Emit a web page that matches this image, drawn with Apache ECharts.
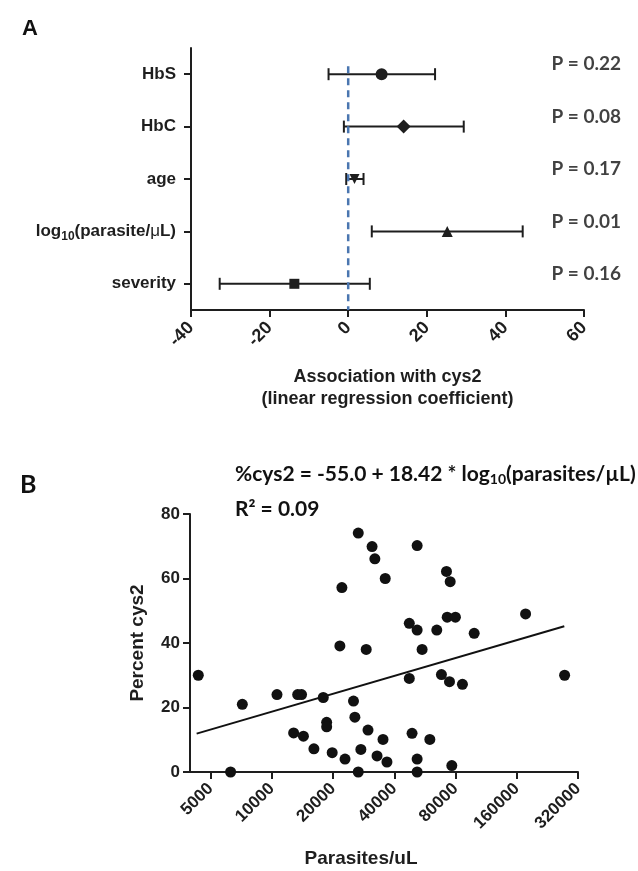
<!DOCTYPE html>
<html><head><meta charset="utf-8">
<script src="https://cdn.jsdelivr.net/npm/echarts@6/dist/echarts.min.js"></script>
<style>html,body{margin:0;padding:0;background:#fff}#c{width:638px;height:871px}</style>
</head><body><div id="c"></div>
<script>
// ---------- Panel A data ----------
const factorKeys = ['HbS', 'HbC', 'age', 'log', 'severity'];
const estimates = [8.5, 14.1, 1.6, 25.2, -13.7];
const ciLow = [-5.0, -1.1, -0.5, 6.0, -32.7];
const ciHigh = [22.1, 29.4, 3.9, 44.4, 5.5];
const pValueLabels = ['P = 0.22', 'P = 0.08', 'P = 0.17', 'P = 0.01', 'P = 0.16'];
const coefTicks = [-40, -20, 0, 20, 40, 60];

// ---------- Panel B data ----------
const parasites = [4350, 6270, 7160, 10600, 13400, 14000, 12800, 14300, 16100, 17900,
  18600, 18600, 19800, 21600, 22100, 22900, 25200, 25600, 26600, 26600,
  27400, 29100, 29700, 31100, 32100, 32900, 36100, 51800, 72200, 75300,
  47400, 51800, 64700, 72800, 79900, 98800, 176800, 54800, 47400, 68200,
  74700, 86500, 275000, 35200, 48900, 59800, 36800, 51800, 51800, 76700];
const percentCys2 = [30, 0, 21, 24, 24, 24, 12.1, 11.1, 7.2, 23.1,
  15.4, 14, 6, 39.1, 57.2, 4, 22, 17, 74.1, 0,
  7, 38, 13, 69.9, 66.1, 5, 60, 70.2, 62.2, 59,
  46.1, 44, 44, 48, 48, 43, 49, 38, 29, 30.2,
  28, 27.2, 30, 10.1, 12, 10.1, 3.1, 4, 0, 2];
const fitParasites = [4270, 274000];
const fitPercent = [11.9, 45.2];
const parasiteTicks = [5000, 10000, 20000, 40000, 80000, 160000, 320000];
const percentTicks = [0, 20, 40, 60, 80];

// ---------- styling ----------
const AX = '"Liberation Sans", Arial, sans-serif';
const CAL = 'Lato, "Open Sans", sans-serif';
const INK = '#1e1e1e';
const markerSymbols = ['circle', 'diamond', 'triangle', 'triangle', 'rect'];
const markerRotate = [0, 0, 180, 0, 0];
const markerSize = [12, 14, 10, 11, 10];
const pLabelX = 51.2;

const axisLineStyle = { show: true, onZero: false, lineStyle: { color: INK, width: 2 } };
const tickStyle = { show: true, length: 7, lineStyle: { color: INK, width: 2 } };
const labelFont = { fontFamily: AX, fontWeight: 'bold', fontSize: 17, color: INK };

const chart = echarts.init(document.getElementById('c'), null, { renderer: 'canvas' });

const option = {
  animation: false,
  backgroundColor: '#fff',
  grid: [
    { left: 191, right: 54, top: 48, bottom: 561 },
    { left: 190, right: 60, top: 514, bottom: 99 }
  ],
  xAxis: [
    {
      type: 'value', gridIndex: 0,
      min: coefTicks[0], max: coefTicks[coefTicks.length - 1], interval: 20,
      axisLine: axisLineStyle, axisTick: tickStyle,
      axisLabel: Object.assign({ rotate: 45, margin: 15 }, labelFont, { fontSize: 18 }),
      splitLine: { show: false },
      name: 'Association with cys2\n(linear regression coefficient)',
      nameLocation: 'middle', nameGap: 56,
      nameTextStyle: { fontFamily: AX, fontWeight: 'bold', fontSize: 18, lineHeight: 22, color: INK }
    },
    {
      type: 'value', gridIndex: 1,
      min: Math.log2(3960), max: Math.log2(parasiteTicks[parasiteTicks.length - 1]),
      axisLine: axisLineStyle,
      axisTick: Object.assign({ customValues: parasiteTicks.map(v => Math.log2(v)) }, tickStyle),
      axisLabel: Object.assign({
        customValues: parasiteTicks.map(v => Math.log2(v)),
        rotate: 45, margin: 14,
        formatter: v => String(Math.round(Math.pow(2, v)))
      }, labelFont),
      splitLine: { show: false },
      name: 'Parasites/uL', nameLocation: 'middle', nameGap: 77,
      nameTextStyle: { fontFamily: AX, fontWeight: 'bold', fontSize: 19, color: INK, padding: [0, 46, 0, 0] }
    }
  ],
  yAxis: [
    {
      type: 'category', gridIndex: 0, data: factorKeys, inverse: true,
      axisLine: axisLineStyle,
      axisTick: Object.assign({ alignWithLabel: true }, tickStyle),
      axisLabel: {
        margin: 15,
        formatter: k => k === 'log'
          ? '{t|log}{s|10}{t|(parasite/}{m|μ}{t|L)}'
          : '{t|' + k + '}',
        rich: {
          t: { fontFamily: AX, fontWeight: 'bold', fontSize: 17, color: INK, lineHeight: 22 },
          m: { fontFamily: AX, fontWeight: 'normal', fontSize: 17, color: INK, lineHeight: 22 },
          s: { fontFamily: AX, fontWeight: 'bold', fontSize: 12, color: INK, lineHeight: 12, verticalAlign: 'bottom' }
        }
      },
      splitLine: { show: false }
    },
    {
      type: 'value', gridIndex: 1, min: percentTicks[0], max: percentTicks[percentTicks.length - 1], interval: 20,
      axisLine: axisLineStyle, axisTick: tickStyle,
      axisLabel: Object.assign({ margin: 10 }, labelFont),
      splitLine: { show: false },
      name: 'Percent cys2', nameLocation: 'middle', nameGap: 43,
      nameTextStyle: { fontFamily: AX, fontWeight: 'bold', fontSize: 19, color: INK }
    }
  ],
  series: [
    // error bars (95% CI)
    {
      type: 'custom', xAxisIndex: 0, yAxisIndex: 0, z: 3,
      data: factorKeys.map((k, i) => [ciLow[i], ciHigh[i], i]),
      encode: { x: [0, 1], y: 2 },
      renderItem: (params, api) => {
        const lo = api.coord([api.value(0), api.value(2)]);
        const hi = api.coord([api.value(1), api.value(2)]);
        const h = 6;
        const style = { stroke: INK, lineWidth: 2 };
        return {
          type: 'group', children: [
            { type: 'line', shape: { x1: lo[0], y1: lo[1], x2: hi[0], y2: hi[1] }, style },
            { type: 'line', shape: { x1: lo[0], y1: lo[1] - h, x2: lo[0], y2: lo[1] + h }, style },
            { type: 'line', shape: { x1: hi[0], y1: hi[1] - h, x2: hi[0], y2: hi[1] + h }, style }
          ]
        };
      }
    },
    // point estimates
    {
      type: 'scatter', xAxisIndex: 0, yAxisIndex: 0, z: 4,
      data: estimates.map((v, i) => ({
        value: [v, i], symbol: markerSymbols[i], symbolRotate: markerRotate[i], symbolSize: markerSize[i]
      })),
      itemStyle: { color: INK, opacity: 1 }
    },
    // zero reference line
    {
      type: 'custom', xAxisIndex: 0, yAxisIndex: 0, z: 5,
      data: [[0, 0]],
      encode: { x: 0, y: 1 },
      renderItem: (params, api) => {
        const p = api.coord([api.value(0), api.value(1)]);
        const cs = params.coordSys;
        return {
          type: 'line',
          shape: { x1: p[0], y1: p[1] - 8, x2: p[0], y2: cs.y + cs.height },
          style: { stroke: '#4a76b0', lineWidth: 2.5, lineDash: [7, 5] }
        };
      }
    },
    // P-value labels
    {
      type: 'scatter', xAxisIndex: 0, yAxisIndex: 0, z: 6, symbolSize: 0,
      data: factorKeys.map((k, i) => [pLabelX, i]),
      label: {
        show: true, position: 'right', distance: 2, offset: [0, -10],
        formatter: p => pValueLabels[p.dataIndex],
        fontFamily: CAL, fontWeight: 'bold', fontSize: 19, color: '#111'
      },
      silent: true
    },
    // Panel B scatter
    {
      type: 'scatter', xAxisIndex: 1, yAxisIndex: 1, z: 4,
      data: parasites.map((p, i) => [Math.log2(p), percentCys2[i]]),
      symbolSize: 11,
      itemStyle: { color: '#111', opacity: 1 }
    },
    // regression line
    {
      type: 'line', xAxisIndex: 1, yAxisIndex: 1, z: 3,
      data: fitParasites.map((p, i) => [Math.log2(p), fitPercent[i]]),
      showSymbol: false,
      lineStyle: { color: '#111', width: 2 }
    }
  ],
  graphic: [
    { type: 'text', left: 22, top: 18, style: { text: 'A', fontFamily: AX, fontWeight: 'bold', fontSize: 22, fill: '#111' } },
    { type: 'text', left: 20, top: 472, style: { text: 'B', fontFamily: CAL, fontWeight: 'bold', fontSize: 25, fill: '#111' } },
    {
      type: 'text', left: 235, top: 464,
      style: {
        text: '{t|%cys2 = -55.0 + 18.42 * log}{s|10}{t|(parasites/µL)}',
        rich: {
          t: { fontFamily: CAL, fontWeight: 'bold', fontSize: 21, fill: '#111', lineHeight: 24 },
          s: { fontFamily: CAL, fontWeight: 'bold', fontSize: 14, fill: '#111', lineHeight: 14, verticalAlign: 'bottom' }
        }
      }
    },
    {
      type: 'text', left: 235, top: 499,
      style: { text: 'R² = 0.09', fontFamily: CAL, fontWeight: 'bold', fontSize: 21, fill: '#111' }
    }
  ]
};
chart.setOption(option);
</script>
</body></html>
